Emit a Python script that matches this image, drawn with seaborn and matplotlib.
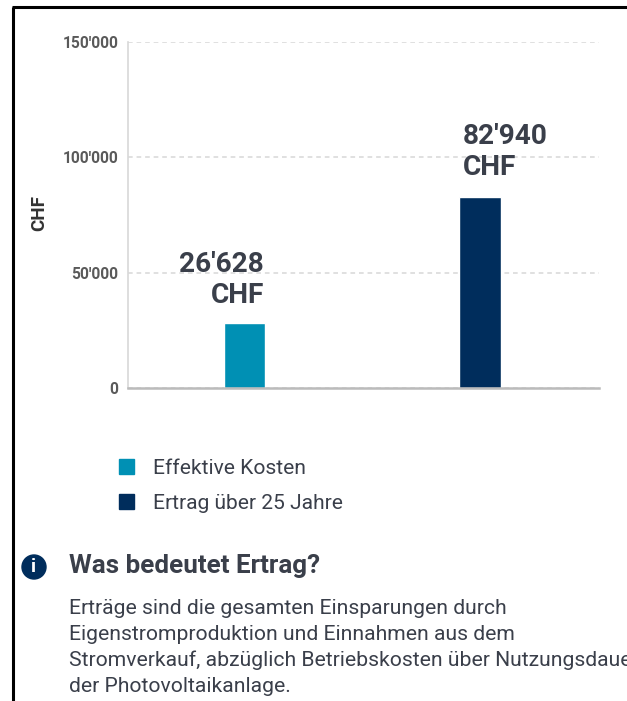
import matplotlib
matplotlib.use("Agg")
import matplotlib.pyplot as plt
from matplotlib.patches import Circle, Rectangle
from matplotlib.ticker import FixedLocator, FuncFormatter
import pandas as pd
import seaborn as sns

categories = ["Effektive Kosten", "Ertrag über 25 Jahre"]
bar_values = [28100, 82940]
bar_labels = ["26'628\nCHF", "82'940\nCHF"]
colors = ["#0090B4", "#002D5C"]
y_ticks = [0, 50000, 100000, 150000]
y_label = "CHF"
info_title = "Was bedeutet Ertrag?"
info_lines = [
    "Erträge sind die gesamten Einsparungen durch",
    "Eigenstromproduktion und Einnahmen aus dem",
    "Stromverkauf, abzüglich Betriebskosten über Nutzungsdauer",
    "der Photovoltaikanlage.",
]

W, H = 627, 701
sns.set_theme(style="white")
plt.rcParams["font.family"] = ["Roboto", "DejaVu Sans"]

fig = plt.figure(figsize=(W / 100, H / 100), dpi=100, facecolor="white")
ax = fig.add_axes([128 / W, 1 - 388 / H, 471 / W, 346 / H])

df = pd.DataFrame({"cat": categories, "val": bar_values})
sns.barplot(data=df, x="cat", y="val", hue="cat", palette=colors, dodge=False,
            width=0.175, legend=False, ax=ax, saturation=1, zorder=3)
ax.set_xlim(-0.495, 1.505)
ax.set_ylim(0, 150000)
ax.set_xlabel("")
ax.set_xticks([])
ax.yaxis.set_major_locator(FixedLocator(y_ticks))
ax.yaxis.set_major_formatter(FuncFormatter(lambda v, _: f"{int(v):,}".replace(",", "'")))
ax.tick_params(axis="y", length=0, pad=7, labelsize=11.2, labelcolor="#5A5A5A")
for t in ax.get_yticklabels():
    t.set_fontweight("bold")
ax.set_ylabel(y_label, fontsize=13.5, fontweight="bold", color="#333333", labelpad=0)
ax.yaxis.set_label_coords((48 - 128) / 471, (388 - 213) / 346)

ax.set_axisbelow(True)
ax.yaxis.grid(True, color="#E0E0E0", lw=1.4, linestyle=(0, (2.4, 2.0)))
for s in ("top", "right"):
    ax.spines[s].set_visible(False)
ax.spines["left"].set_color("#D8D8D8")
ax.spines["left"].set_linewidth(1.2)
ax.spines["bottom"].set_color("#BBBBBB")
ax.spines["bottom"].set_linewidth(1.8)
ax.spines["bottom"].set_zorder(4)

# value labels: first right aligned to the bar edge, second left aligned
bars = ax.patches
ax.annotate(bar_labels[0], (bars[0].get_x() + bars[0].get_width(), bar_values[0]),
            xytext=(-1, 14), textcoords="offset pixels", ha="right", va="bottom",
            fontsize=20.2, fontweight="bold", color="#3A3F4A", linespacing=1.19, zorder=5)
ax.annotate(bar_labels[1], (bars[1].get_x(), bar_values[1]),
            xytext=(3, 16), textcoords="offset pixels", ha="left", va="bottom",
            fontsize=20.2, fontweight="bold", color="#3A3F4A", linespacing=1.19, zorder=5)

# legend
handles = [Rectangle((0, 0), 1, 1, color=c) for c in colors]
ax.legend(handles, categories, loc="upper left", bbox_to_anchor=(100 / W, 1 - 440 / H),
          bbox_transform=fig.transFigure, frameon=False, fontsize=15.1,
          handlelength=0.72, handleheight=0.72, handletextpad=0.9,
          labelspacing=0.77, labelcolor="#3A3F4A")

# overlay in pixel coordinates: frame, info icon and note
ov = fig.add_axes([0, 0, 1, 1], zorder=-1)
ov.set_xlim(0, W)
ov.set_ylim(H, 0)
ov.axis("off")
ov.plot([12.5, 12.5], [H, 6.5], color="black", lw=2.2, solid_capstyle="butt")
ov.plot([11.5, W], [6.5, 6.5], color="black", lw=2.2, solid_capstyle="butt")
ov.add_patch(Circle((34, 567), 12, color="#002D5C"))
ov.text(34, 567.5, "i", color="white", fontsize=14, fontweight="bold", ha="center", va="center")
ov.text(69, 566, info_title, fontsize=18.7, fontweight="bold", color="#3A3F4A", va="center")
for y, line in zip([609, 635, 660, 686], info_lines):
    ov.text(69, y, line, fontsize=15.2, color="#3A3F4A", va="center", clip_on=False)

fig.savefig("out.png", dpi=100)
